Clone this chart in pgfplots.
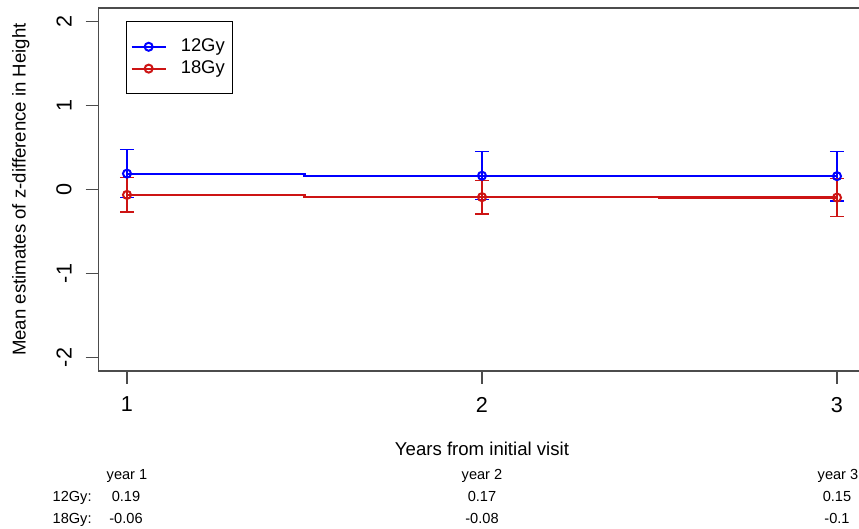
\documentclass[border=0pt]{standalone}
\usepackage{pgfplots}
\pgfplotsset{compat=1.18}
\usepackage{fontspec}
\setmainfont{Liberation Sans}
\definecolor{gyA}{RGB}{0,0,255}
\definecolor{gyB}{RGB}{205,20,20}
\definecolor{frame}{gray}{0.3}

\begin{document}
\begin{tikzpicture}[tab/.style={anchor=base, inner sep=0pt, font=\fontsize{7.3}{9}\selectfont}]
\useasboundingbox (0,0) rectangle (429.5pt,264.5pt);
\begin{axis}[
  at={(49.3pt,79pt)}, anchor=south west, scale only axis,
  width=383.4pt, height=181.4pt,
  xmin=0.92, xmax=3.08, ymin=-2.16, ymax=2.16,
  xtick={1,2,3}, xticklabels={1,2,3},
  ytick={-2,-1,0,1,2}, yticklabels={-2,-1,0,1,2},
  tick align=outside, xtick pos=left, ytick pos=left,
  major tick length=6.5pt,
  axis line style={frame, line width=0.8pt},
  tick style={frame, line width=0.8pt},
  ticklabel style={font=\fontsize{10.8}{12}\selectfont},
  yticklabel style={rotate=90, anchor=south},
  xticklabel shift=3pt, yticklabel shift=3.5pt,
  xlabel={Years from initial visit},
  ylabel={Mean estimates of z-difference in Height},
  every axis x label/.style={at={(axis description cs:0.5,-0.234)}, anchor=base,
    font=\fontsize{9.3}{11}\selectfont},
  every axis y label/.style={at={(axis description cs:-0.1015,0.5)}, anchor=center, rotate=90,
    font=\fontsize{9.3}{11}\selectfont},
  legend style={at={(0.0357,0.964)}, anchor=north west, draw=black, line width=0.6pt,
    font=\fontsize{9.2}{10}\selectfont, inner xsep=2pt, inner ysep=6.5pt, row sep=-1pt,
    /tikz/every odd column/.append style={column sep=5pt}},
  legend cell align=left,
  legend image code/.code={\draw[#1, sharp plot, mark repeat=2, mark phase=2]
    plot coordinates {(0pt,0pt) (8.5pt,0pt) (17pt,0pt)};},
  clip=false,
]
\addplot[gyA, line width=1.1pt, const plot mark mid, mark=o, mark size=2pt,
  mark options={fill=white, line width=1pt},
  error bars/.cd, y dir=both, y explicit,
  error bar style={line width=0.6pt, gyA},
  error mark options={rotate=90, mark size=3.5pt, line width=0.6pt, gyA}]
coordinates {(1,0.19) +- (0,0.285) (2,0.165) +- (0,0.285) (3,0.16) +- (0,0.295)};
\addlegendentry{12Gy}
\addplot[gyB, line width=1.1pt, const plot mark mid, mark=o, mark size=2pt,
  mark options={fill=white, line width=1pt},
  error bars/.cd, y dir=both, y explicit,
  error bar style={line width=0.6pt, gyB},
  error mark options={rotate=90, mark size=3.5pt, line width=0.6pt, gyB}]
coordinates {(1,-0.063) +- (0,0.205) (2,-0.09) +- (0,0.2) (3,-0.095) +- (0,0.225)};
\addlegendentry{18Gy}
\end{axis}
\node[tab] at (63.5pt,24.5pt) {year 1};
\node[tab] at (241pt,24.5pt) {year 2};
\node[tab] at (419pt,24.5pt) {year 3};
\node[tab, anchor=base east] at (46pt,13.75pt) {12Gy:};
\node[tab, anchor=base east] at (46pt,2.5pt) {18Gy:};
\node[tab] at (63pt,13.75pt) {0.19};
\node[tab] at (241pt,13.75pt) {0.17};
\node[tab] at (418.5pt,13.75pt) {0.15};
\node[tab] at (63pt,2.5pt) {-0.06};
\node[tab] at (241pt,2.5pt) {-0.08};
\node[tab] at (418.5pt,2.5pt) {-0.1};
\end{tikzpicture}
\end{document}
